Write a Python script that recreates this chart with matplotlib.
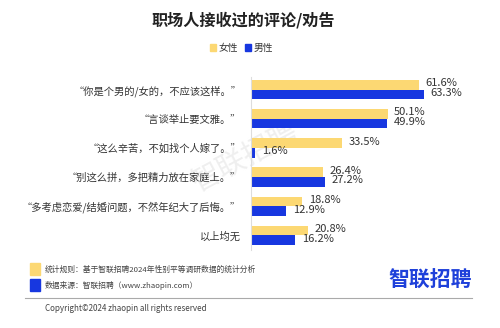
import numpy as np
import matplotlib
matplotlib.use('Agg')
import matplotlib.pyplot as plt
from matplotlib.patches import Rectangle

plt.rcParams['font.family'] = ['Noto Sans CJK SC', 'DejaVu Sans']

categories = ['“你是个男的/女的，不应该这样。”',
              '“言谈举止要文雅。”',
              '“这么辛苦，不如找个人嫁了。”',
              '“别这么拼，多把精力放在家庭上。”',
              '“多考虑恋爱/结婚问题，不然年纪大了后悔。”',
              '以上均无']
female = [61.6, 50.1, 33.5, 26.4, 18.8, 20.8]
male = [63.3, 49.9, 1.6, 27.2, 12.9, 16.2]
series_names = ['女性', '男性']

YELLOW = '#FCD873'
BLUE = '#1737E0'
TXT = '#333333'

fig = plt.figure(figsize=(5, 3.28), dpi=100)

# watermark, behind the bars
fig.text(0.49, 0.52, '智联招聘', fontsize=21, color='#efefef', rotation=28,
         ha='center', va='center', zorder=-1)

ax = fig.add_axes([0.502, 0.238, 0.458, 0.527])
ax.patch.set_alpha(0)

y = np.arange(len(categories))
h = 0.33
ax.barh(y - h / 2, female, height=h, color=YELLOW)
ax.barh(y + h / 2, male, height=h, color=BLUE)

for i in range(len(categories)):
    ax.text(female[i] + 2.4, y[i] - h / 2 - 0.05, '%.1f%%' % female[i],
            fontsize=8, color=TXT, va='center', ha='left')
    ax.text(male[i] + 2.4, y[i] + h / 2 - 0.05, '%.1f%%' % male[i],
            fontsize=8, color=TXT, va='center', ha='left')

ax.set_xlim(0, 84)
ax.set_ylim(5.5, -0.43)
ax.set_yticks(y)
ax.set_yticklabels(categories, fontsize=7.4, color=TXT)
ax.tick_params(axis='y', length=0, pad=7)
ax.set_xticks([])
for s in ['top', 'right', 'bottom']:
    ax.spines[s].set_visible(False)
ax.spines['left'].set_color('#dddddd')
ax.spines['left'].set_linewidth(0.8)

# title and legend
fig.text(0.486, 0.938, '职场人接收过的评论/劝告', fontsize=11.6, fontweight='bold',
         color='#222222', ha='center', va='center')
fig.patches.append(Rectangle((0.420, 0.846), 0.012, 0.020, transform=fig.transFigure,
                             color=YELLOW))
fig.text(0.438, 0.855, series_names[0], fontsize=7, color=TXT, va='center')
fig.patches.append(Rectangle((0.490, 0.846), 0.012, 0.020, transform=fig.transFigure,
                             color=BLUE))
fig.text(0.508, 0.855, series_names[1], fontsize=7, color=TXT, va='center')

# footer
fig.patches.append(Rectangle((0.060, 0.162), 0.020, 0.035, transform=fig.transFigure,
                             color=YELLOW))
fig.text(0.090, 0.178, '统计规则：基于智联招聘2024年性别平等调研数据的统计分析',
         fontsize=5.6, color='#444444', va='center')
fig.patches.append(Rectangle((0.060, 0.113), 0.020, 0.035, transform=fig.transFigure,
                             color=BLUE))
fig.text(0.090, 0.130, '数据来源：智联招聘（www.zhaopin.com）',
         fontsize=5.6, color='#444444', va='center')
fig.text(0.860, 0.147, '智联招聘', fontsize=15, fontweight='bold', color='#1E40DA',
         ha='center', va='center')
fig.add_artist(plt.Line2D([0.05, 0.944], [0.092, 0.092], color='#aaaaaa', lw=0.8))
fig.text(0.090, 0.060, 'Copyright©2024 zhaopin all rights reserved',
         fontsize=5.8, color='#444444', va='center')

fig.savefig('out.png', dpi=100)
